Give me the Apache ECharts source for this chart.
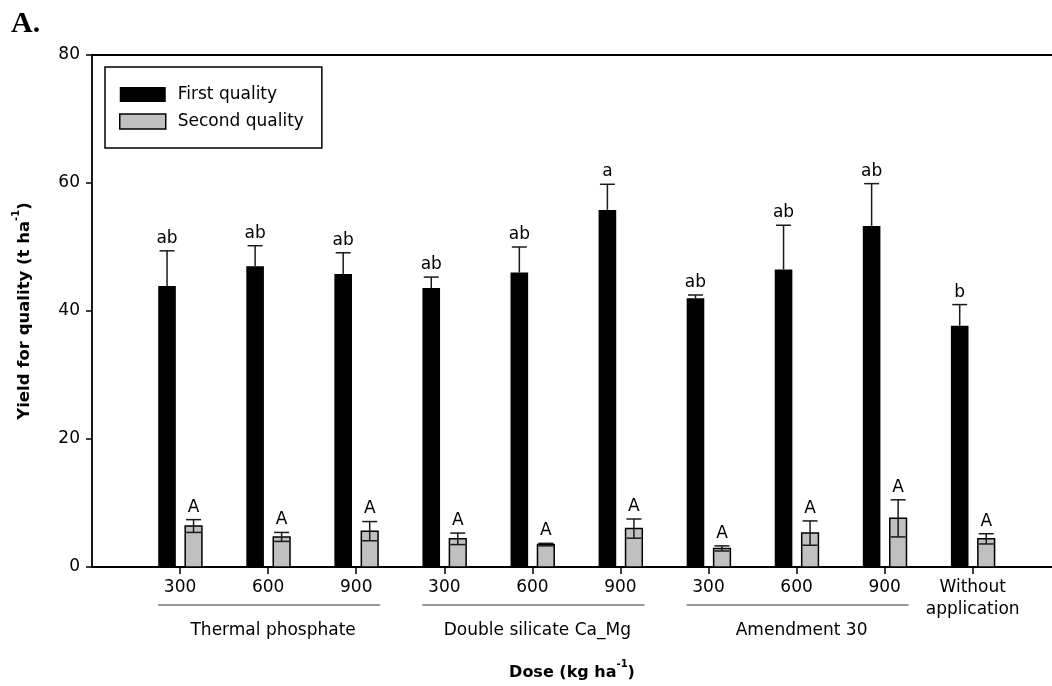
<!DOCTYPE html>
<html>
<head>
<meta charset="utf-8">
<script src="https://cdn.jsdelivr.net/npm/echarts@6/dist/echarts.min.js"></script>
<style>html,body{margin:0;padding:0;background:#fff}#c{width:1052px;height:686px}</style>
</head>
<body>
<div id="c"></div>
<script>
// ---------- data ----------
const doseLabels = ['300', '600', '900', '300', '600', '900', '300', '600', '900', 'Without\napplication'];
const firstMeans  = [43.9, 47.0, 45.8, 43.6, 46.0, 55.8, 42.0, 46.5, 53.3, 37.7];
const firstSD     = [5.5, 3.2, 3.3, 1.7, 4.0, 4.0, 0.5, 6.9, 6.6, 3.3];
const firstLetters = ['ab', 'ab', 'ab', 'ab', 'ab', 'a', 'ab', 'ab', 'ab', 'b'];
const secondMeans = [6.4, 4.7, 5.6, 4.4, 3.5, 6.0, 2.9, 5.3, 7.6, 4.4];
const secondSD    = [1.0, 0.7, 1.5, 0.9, 0.2, 1.5, 0.4, 1.9, 2.9, 0.8];
const secondLetters = ['A', 'A', 'A', 'A', 'A', 'A', 'A', 'A', 'A', 'A'];
const groupNames = ['Thermal phosphate', 'Double silicate Ca_Mg', 'Amendment 30'];
const groupFirst = [1, 4, 7];   // first dose position of each group
const groupLast  = [3, 6, 9];   // last dose position of each group
const yTicks = [0, 20, 40, 60, 80];

// ---------- build ----------
const positions = doseLabels.map((_, i) => i + 1);
const firstData = positions.map((p, i) => [p, firstMeans[i], firstSD[i], firstLetters[i]]);
const secondData = positions.map((p, i) => [p, secondMeans[i], secondSD[i], secondLetters[i]]);
const groupData = groupNames.map((n, i) => [groupFirst[i], groupLast[i], 0, n]);

const FONT = 'DejaVu Sans';

function barRenderer(offsetUnits, widthUnits, fill, stroke, letters, showLower) {
  return function (params, api) {
    const x = api.value(0), m = api.value(1), sd = api.value(2);
    const band = api.size([1, 0])[0];
    const w = band * widthUnits;
    const base = api.coord([x, 0]);
    const cx = base[0] + band * offsetUnits;
    const y0 = base[1];
    const yT = api.coord([x, m])[1];
    const yHi = api.coord([x, m + sd])[1];
    const yLo = api.coord([x, m - sd])[1];
    const capHalf = 7.5;
    const lineStyle = { stroke: '#1a1a1a', lineWidth: 1.5 };
    const children = [
      { type: 'rect', shape: { x: cx - w / 2, y: yT, width: w, height: y0 - yT },
        style: { fill: fill, stroke: stroke, lineWidth: stroke ? 1.5 : 0 } },
      { type: 'line', shape: { x1: cx, y1: showLower ? yLo : yT, x2: cx, y2: yHi }, style: lineStyle },
      { type: 'line', shape: { x1: cx - capHalf, y1: yHi, x2: cx + capHalf, y2: yHi }, style: lineStyle },
      { type: 'text', x: cx, y: yHi - 4,
        style: { text: letters[params.dataIndex], fill: '#000', font: '17px "' + FONT + '"',
                 align: 'center', verticalAlign: 'bottom' } }
    ];
    if (showLower) {
      children.push({ type: 'line', shape: { x1: cx - capHalf, y1: yLo, x2: cx + capHalf, y2: yLo }, style: lineStyle });
    }
    return { type: 'group', children: children };
  };
}

function groupRenderer(params, api) {
  const a = api.coord([api.value(0), 0]);
  const b = api.coord([api.value(1), 0]);
  const x1 = a[0] - 22, x2 = b[0] + 24;
  const y = a[1] + 38;
  return {
    type: 'group',
    children: [
      { type: 'line', shape: { x1: x1, y1: y, x2: x2, y2: y }, style: { stroke: '#333', lineWidth: 1.2 } },
      { type: 'text', x: (x1 + x2) / 2 + 4, y: y + 26,
        style: { text: groupNames[params.dataIndex], fill: '#000', font: '17px "' + FONT + '"',
                 align: 'center', verticalAlign: 'middle' } }
    ]
  };
}

const chart = echarts.init(document.getElementById('c'), null, { renderer: 'canvas' });
chart.setOption({
  animation: false,
  backgroundColor: '#fff',
  textStyle: { fontFamily: FONT },
  title: {
    text: 'A.', left: 6, top: 4,
    textStyle: { fontFamily: 'Liberation Serif', fontWeight: 'bold', fontSize: 30, color: '#000' }
  },
  legend: {
    left: 105, top: 67, orient: 'vertical',
    padding: [19, 18, 18, 14],
    borderColor: '#000', borderWidth: 1.5,
    itemWidth: 46, itemHeight: 15, itemGap: 10,
    textStyle: { fontFamily: FONT, fontSize: 17, color: '#000', lineHeight: 15, padding: [0, 0, 0, 7] },
    data: [
      { name: 'First quality', icon: 'rect', itemStyle: { color: '#000' } },
      { name: 'Second quality', icon: 'rect', itemStyle: { color: '#c0c0c0', borderColor: '#000', borderWidth: 1.5 } }
    ]
  },
  grid: { left: 92, right: 0, top: 55, bottom: 116 },
  xAxis: [{
    type: 'value', min: 0, max: 10.9,
    name: '{b|Dose (kg ha}{s|-1}{b|)}',
    nameLocation: 'middle', nameGap: 92,
    nameTextStyle: { rich: {
      b: { fontFamily: FONT, fontSize: 16, fontWeight: 'bold', color: '#000', lineHeight: 22, verticalAlign: 'bottom' },
      s: { fontFamily: FONT, fontSize: 10, fontWeight: 'bold', color: '#000', lineHeight: 22, verticalAlign: 'top' }
    } },
    splitLine: { show: false },
    axisLine: { show: true, onZero: false, lineStyle: { color: '#000', width: 1.8 } },
    axisTick: { show: true, customValues: positions, length: 7, lineStyle: { color: '#000', width: 1.5 } },
    axisLabel: { customValues: positions, margin: 10, fontFamily: FONT, fontSize: 17, color: '#000', lineHeight: 22,
      formatter: v => doseLabels[Math.round(v) - 1] }
  }, {
    type: 'value', position: 'top', min: 0, max: 10.9,
    splitLine: { show: false },
    axisLine: { show: true, onZero: false, lineStyle: { color: '#000', width: 1.8 } },
    axisTick: { show: false }, axisLabel: { show: false }
  }],
  yAxis: {
    type: 'value', min: 0, max: 80, interval: 20,
    name: '{b|Yield for quality (t ha}{s|-1}{b|)}',
    nameLocation: 'middle', nameGap: 59, nameRotate: 90,
    nameTextStyle: { rich: {
      b: { fontFamily: FONT, fontSize: 16.5, fontWeight: 'bold', color: '#000', lineHeight: 22, verticalAlign: 'bottom' },
      s: { fontFamily: FONT, fontSize: 10, fontWeight: 'bold', color: '#000', lineHeight: 22, verticalAlign: 'top' }
    } },
    splitLine: { show: false },
    axisLine: { show: true, lineStyle: { color: '#000', width: 1.8 } },
    axisTick: { show: true, length: 6, lineStyle: { color: '#000', width: 1.5 } },
    axisLabel: { margin: 12, fontFamily: FONT, fontSize: 17, color: '#000',
      formatter: v => (yTicks.indexOf(v) >= 0 ? String(v) : '') }
  },
  series: [
    { name: 'First quality', type: 'custom', itemStyle: { color: '#000' },
      renderItem: barRenderer(-0.148, 0.2, '#000', null, firstLetters, false),
      encode: { x: 0, y: 1 }, data: firstData, clip: false, silent: true },
    { name: 'Second quality', type: 'custom', itemStyle: { color: '#c0c0c0' },
      renderItem: barRenderer(0.153, 0.19, '#c0c0c0', '#000', secondLetters, true),
      encode: { x: 0, y: 1 }, data: secondData, clip: false, silent: true },
    { name: 'groups', type: 'custom', renderItem: groupRenderer,
      encode: { x: [0, 1], y: 2 }, data: groupData, clip: false, silent: true }
  ]
});
</script>
</body>
</html>
